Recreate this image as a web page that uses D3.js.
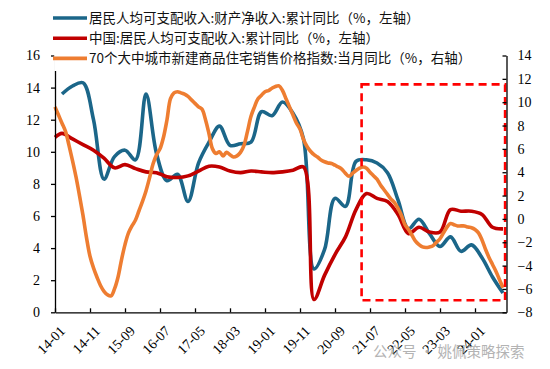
<!DOCTYPE html>
<html>
<head>
<meta charset="utf-8">
<script src="https://cdn.jsdelivr.net/npm/d3@7"></script>
<style>
  body { margin: 0; background: #fff; }
  svg { display: block; }
  .axis path, .axis line { stroke: #000; stroke-width: 1.3; }
  .axis text { font-family: "Liberation Serif", "Times New Roman", serif; font-size: 14px; fill: #000; }
  .legend text { font-family: "Noto Sans CJK SC", sans-serif; font-size: 13.5px; fill: #111; }
</style>
</head>
<body>
<svg id="chart" width="550" height="369"></svg>
<script>
// Month categories, 14-01 .. 24-09 (index 0 = 2014-01)
const months = d3.range(129).map(i => {
  const y = 14 + Math.floor(i / 12);
  const m = (i % 12) + 1;
  return `${y}-${String(m).padStart(2, '0')}`;
});
const tickLabels = ['14-01', '14-11', '15-09', '16-07', '17-05', '18-03', '19-01',
  '19-11', '20-09', '21-07', '22-05', '23-03', '24-01'];

// Quarter-end months 14-03 .. 24-09
const quarterMonths = d3.range(2, 129, 3).map(i => months[i]);

// 居民人均可支配收入:财产净收入:累计同比 (left axis, quarterly)
const propIncome = [13.6, 14.1, 14.3, 12.0, 8.3, 9.7, 10.1, 9.5, 13.6, 9.9, 8.2, 8.6,
  6.9, 9.3, 10.6, 11.6, 10.4, 10.5, 10.6, 12.5, 12.25, 13.1, 12.4, 10.8,
  2.7, 3.9, 7.1, 6.6, 9.4, 9.5, 9.3, 8.7, 7.0, 5.2, 5.8, 4.9,
  4.1, 4.7, 3.8, 4.2, 3.4, 2.2, 1.2];

// 中国:居民人均可支配收入:累计同比 (left axis, 14-01 then quarterly)
const dispIncomeFirst = ['14-01', 10.9];
const dispIncome = [11.15, 10.8, 10.45, 10.1, 9.6, 9.0, 9.2, 8.95, 8.75, 8.7, 8.45, 8.4,
  8.5, 8.8, 9.1, 9.05, 8.8, 8.7, 8.8, 8.75, 8.7, 8.75, 8.85, 9.05,
  0.8, 2.3, 3.6, 4.7, 6.4, 7.4, 7.1, 6.9, 6.1, 4.9, 5.3, 5.0,
  5.0, 6.4, 6.3, 6.3, 6.1, 5.3, 5.2];

// 70个大中城市新建商品住宅销售价格指数:当月同比 (right axis, monthly)
const housePrice = [
  9.6, 8.9, 8.2, 7.5, 6.3, 5.0, 3.6, 2.0, 0.3, -1.6, -3.2, -4.2,
  -5.0, -5.7, -6.2, -6.5, -6.6, -6.0, -5.0, -3.5, -2.2, -1.2, -0.6, -0.1,
  0.7, 1.5, 2.4, 3.5, 4.7, 5.5, 6.0, 7.0, 8.5, 10.3, 10.8, 10.9,
  10.8, 10.7, 10.5, 10.2, 9.9, 9.6, 9.4, 8.5, 7.3, 6.0, 5.6, 5.75,
  5.4, 5.7, 5.5, 5.3, 5.4, 5.7, 6.3, 7.5, 8.8, 9.6, 10.3, 10.6,
  10.9, 11.0, 11.2, 11.35, 11.4, 11.0, 10.3, 9.6, 8.9, 8.2, 7.7, 6.8,
  6.2, 5.8, 5.5, 5.3, 5.05, 4.9, 4.8, 4.75, 4.6, 4.45, 4.25, 3.9,
  3.65, 3.9, 4.15, 4.35, 4.45, 4.35, 4.0, 3.7, 3.4, 2.9, 2.5, 2.1,
  1.7, 1.4, 0.9, 0.3, -0.5, -0.9, -1.4, -1.9, -2.2, -2.4, -2.45, -2.4,
  -2.3, -2.0, -1.7, -1.2, -0.7, -0.4, -0.5, -0.6, -0.6, -0.6, -0.7, -0.75,
  -0.9, -1.2, -1.8, -2.6, -3.3, -3.9, -4.5, -5.2, -5.9];

const leftTicks = d3.range(0, 17, 2);
const rightTicks = d3.range(-8, 15, 2);

// Highlight box (month positions, left-axis units)
const boxMonths = ['21-05', '24-09'];
const boxRange = [0.75, 14.2];

const legendItems = [
  { label: '居民人均可支配收入:财产净收入:累计同比（%，左轴）', color: '#1b6689' },
  { label: '中国:居民人均可支配收入:累计同比（%，左轴）', color: '#c00000' },
  { label: '70个大中城市新建商品住宅销售价格指数:当月同比（%，右轴）', color: '#ee7d31' },
];

const svg = d3.select('#chart');
const plot = { left: 55, right: 506.5, top: 55.5, bottom: 312.3 };

const idx = d => months.indexOf(d);
const x = d3.scaleLinear().domain([0, 129]).range([plot.left, plot.right]);
const yL = d3.scaleLinear().domain([0, 16]).range([plot.bottom, plot.top]);
const yR = d3.scaleLinear().domain([-8, 14]).range([plot.bottom, plot.top]);

// Series
const blueData = quarterMonths.map((m, i) => [idx(m), propIncome[i]]);
const redData = [[idx(dispIncomeFirst[0]), dispIncomeFirst[1]]]
  .concat(quarterMonths.map((m, i) => [idx(m), dispIncome[i]]));
const orangeData = housePrice.map((v, i) => [i, v]);

const lineL = d3.line().x(d => x(d[0])).y(d => yL(d[1])).curve(d3.curveCatmullRom.alpha(0.5));
const lineR = d3.line().x(d => x(d[0])).y(d => yR(d[1])).curve(d3.curveCatmullRom.alpha(0.5));

svg.append('path').datum(blueData).attr('d', lineL)
  .attr('fill', 'none').attr('stroke', legendItems[0].color).attr('stroke-width', 3.6);
svg.append('path').datum(redData).attr('d', lineL)
  .attr('fill', 'none').attr('stroke', legendItems[1].color).attr('stroke-width', 3.6);
svg.append('path').datum(orangeData).attr('d', lineR)
  .attr('fill', 'none').attr('stroke', legendItems[2].color).attr('stroke-width', 3.6);

// Highlight box
const boxX0 = x(idx(boxMonths[0]) - 0.4);
const boxX1 = x(idx(boxMonths[1]) + 0.6);
svg.append('rect')
  .attr('x', boxX0)
  .attr('y', yL(boxRange[1]))
  .attr('width', boxX1 - boxX0)
  .attr('height', yL(boxRange[0]) - yL(boxRange[1]))
  .attr('fill', 'none')
  .attr('stroke', '#ff0000')
  .attr('stroke-width', 2.6)
  .attr('stroke-dasharray', '8,5');

// Axes
svg.append('g').attr('class', 'axis')
  .attr('transform', `translate(${plot.left},0)`)
  .call(d3.axisLeft(yL).tickValues(leftTicks).tickSize(4).tickSizeOuter(0).tickPadding(11));

svg.append('g').attr('class', 'axis')
  .attr('transform', `translate(${plot.right},0)`)
  .call(d3.axisRight(yR).tickValues(rightTicks).tickSizeInner(-4).tickSizeOuter(0).tickPadding(11));

const xAxis = svg.append('g').attr('class', 'axis')
  .attr('transform', `translate(0,${plot.bottom})`)
  .call(d3.axisBottom(x).tickValues(tickLabels.map(idx)).tickSizeInner(-4).tickSizeOuter(0)
    .tickFormat(d => months[d]));

xAxis.selectAll('.tick text')
  .style('font-size', '14px')
  .attr('text-anchor', 'end')
  .attr('dy', '0.35em')
  .attr('transform', 'translate(0,9) rotate(-45)')
  .attr('x', 0).attr('y', 10);

// Legend (white box hides the top of the left axis like the original)
svg.append('rect')
  .attr('x', 54.2).attr('y', 0).attr('width', 440).attr('height', 71)
  .attr('fill', '#fff');

const legend = svg.append('g').attr('class', 'legend');
legendItems.forEach((item, i) => {
  const ly = 18 + i * 20.2;
  legend.append('line')
    .attr('x1', 53).attr('x2', 87).attr('y1', ly).attr('y2', ly)
    .attr('stroke', item.color).attr('stroke-width', 3.6);
  legend.append('text')
    .attr('x', 89).attr('y', ly).attr('dy', '0.36em')
    .text(item.label);
});

// Watermark
svg.append('text')
  .attr('x', 373).attr('y', 357)
  .attr('font-family', '"Noto Sans CJK SC", sans-serif')
  .attr('font-size', 14.5)
  .attr('fill', '#9a9a9a')
  .attr('opacity', 0.75)
  .text('公众号 · 姚佩策略探索');
</script>
</body>
</html>
